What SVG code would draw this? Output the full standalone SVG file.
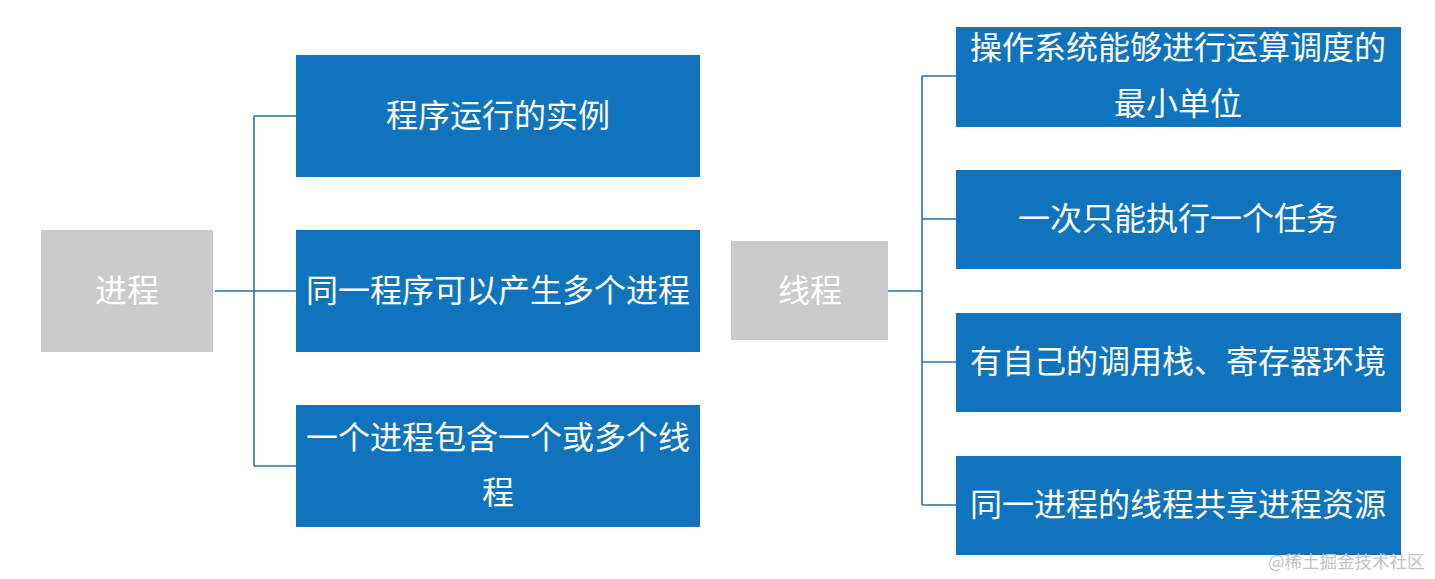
<svg xmlns="http://www.w3.org/2000/svg" width="1435" height="579" viewBox="0 0 1435 579">
<style>
.g{fill:#cbcbcc}
.b{fill:#0f74bd}
.t{font-family:"Noto Sans CJK SC","Noto Sans",sans-serif;font-size:32px;fill:#fff;text-anchor:middle;dominant-baseline:central}
.c{fill:none;stroke:#2f6fa8;stroke-width:1.6}
.w{font-family:"Noto Sans CJK SC","Noto Sans",sans-serif;font-size:17.5px;fill:#c4c4c4}
</style>
<rect width="1435" height="579" fill="#fff"/>
<g id="connectors">
<path class="c" d="M215 291H254M254 116V466M254 116H296M254 291H296M254 466H296"/>
<path class="c" d="M888 291H922M922 76V505M922 76H956M922 219H956M922 362H956M922 505H956"/>
</g>
<g id="process"><rect class="g" x="41" y="230" width="172" height="122"/><text class="t" x="127" y="288">进程</text></g>
<g id="p1"><rect class="b" x="296" y="55" width="404" height="122"/><text class="t" x="498" y="113">程序运行的实例</text></g>
<g id="p2"><rect class="b" x="296" y="230" width="404" height="122"/><text class="t" x="498" y="288">同一程序可以产生多个进程</text></g>
<g id="p3"><rect class="b" x="296" y="405" width="404" height="122"/><text class="t" x="498" y="435">一个进程包含一个或多个线</text><text class="t" x="498" y="490">程</text></g>
<g id="thread"><rect class="g" x="731" y="241" width="157" height="99"/><text class="t" x="810" y="288">线程</text></g>
<g id="t1"><rect class="b" x="956" y="27" width="445" height="100"/><text class="t" x="1178" y="45">操作系统能够进行运算调度的</text><text class="t" x="1178" y="101">最小单位</text></g>
<g id="t2"><rect class="b" x="956" y="170" width="445" height="99"/><text class="t" x="1178" y="216">一次只能执行一个任务</text></g>
<g id="t3"><rect class="b" x="956" y="313" width="445" height="99"/><text class="t" x="1178" y="359">有自己的调用栈、寄存器环境</text></g>
<g id="t4"><rect class="b" x="956" y="456" width="445" height="99"/><text class="t" x="1178" y="502">同一进程的线程共享进程资源</text></g>
<text class="w" x="1268" y="568">@稀土掘金技术社区</text>
</svg>
